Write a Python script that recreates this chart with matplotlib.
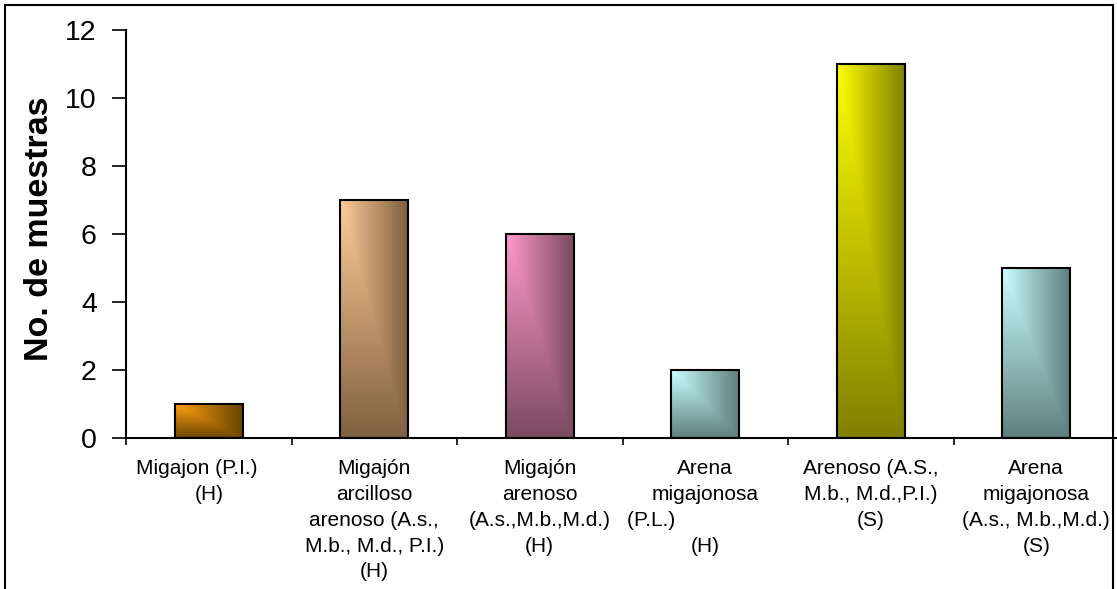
import matplotlib.pyplot as plt
import numpy as np
from matplotlib.patches import Rectangle

plt.rcParams['font.family'] = ['Liberation Sans', 'DejaVu Sans']

# data
labels = [
    "Migajon (P.I.)    \n(H)",
    "Migajón\narcilloso\narenoso (A.s.,\nM.b., M.d., P.I.)\n(H)",
    "Migajón\narenoso\n(A.s.,M.b.,M.d.)\n(H)",
    "Arena\nmigajonosa\n(P.L.)                   \n(H)",
    "Arenoso (A.S.,\nM.b., M.d.,P.I.)\n(S)",
    "Arena\nmigajonosa\n(A.s., M.b.,M.d.)\n(S)",
]
values = [1, 7, 6, 2, 11, 5]
light = ['#FFA010', '#FFCC99', '#FF99CC', '#CCFFFF', '#FFFF00', '#CCFFFF']
dark = ['#6B4400', '#7F6040', '#7A4A60', '#5F7F7F', '#808000', '#5F7F7F']

W, H = 1117, 589
fig = plt.figure(figsize=(W / 100, H / 100), dpi=100)
ax = fig.add_axes([126 / W, 1 - 438 / H, (1119 - 126) / W, (438 - 30) / H])

# gradient bars: light top-left corner, dark to the right and bottom
bw = 0.41
for i, (v, lc, dc) in enumerate(zip(values, light, dark)):
    nx, ny = 60, 200
    u = np.linspace(0, 1, nx)[None, :]
    w = np.linspace(0, 1, ny)[:, None]
    t = np.maximum(u, w)
    c1 = np.array(plt.matplotlib.colors.to_rgb(lc))
    c2 = np.array(plt.matplotlib.colors.to_rgb(dc))
    img = c1 * (1 - t[..., None]) + c2 * t[..., None]
    ax.imshow(img, extent=[i - bw / 2, i + bw / 2, 0, v], origin='upper',
              aspect='auto', zorder=2, interpolation='bilinear')
    ax.add_patch(Rectangle((i - bw / 2, 0), bw, v, fill=False,
                           ec='black', lw=1.5, zorder=3))

ax.set_xlim(-0.5, 5.5)
ax.set_ylim(0, 12)
ax.set_yticks(np.arange(0, 13, 2))
ax.tick_params(axis='y', labelsize=20.5, length=10, width=1.2, pad=11)
ax.set_xticks(np.arange(-0.5, 6, 1))
ax.set_xticklabels([])
ax.tick_params(axis='x', which='major', length=5, width=1.2)
ax.set_xticks(range(6), labels, minor=True)
ax.tick_params(axis='x', which='minor', length=0, pad=15, labelsize=15)
for lab in ax.get_xticklabels(minor=True):
    lab.set_linespacing(1.46)

for s in ['top', 'right']:
    ax.spines[s].set_visible(False)
for s in ['left', 'bottom']:
    ax.spines[s].set_linewidth(1.5)

fig.text(40 / W, 1 - 229 / H, "No. de muestras", rotation=90, fontsize=24.5,
         fontweight='bold', ha='center', va='center')

# outer frame
fig.patches.append(Rectangle((5 / W, -0.1), (1113 - 5) / W, 1.1 - 5 / H,
                             transform=fig.transFigure, fill=False,
                             ec='black', lw=1.5))

fig.savefig("out.png", dpi=100)
